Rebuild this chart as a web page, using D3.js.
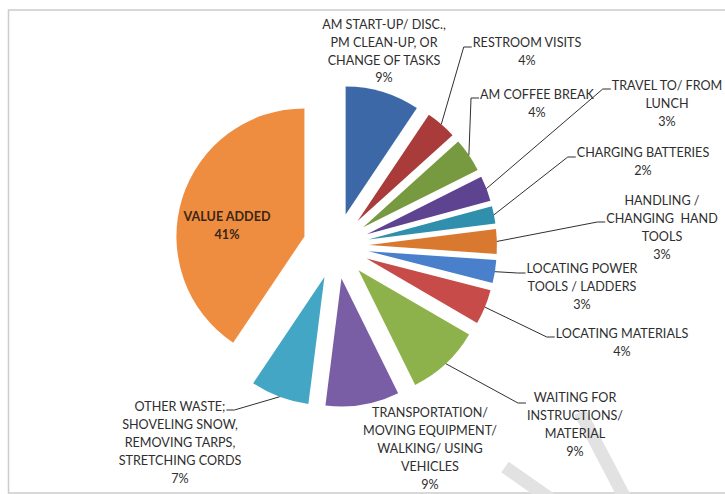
<!DOCTYPE html>
<html>
<head>
<meta charset="utf-8">
<script src="https://cdn.jsdelivr.net/npm/d3@7"></script>
<style>
  html, body { margin: 0; padding: 0; background: #fff; }
  svg { display: block; }
  .lbl { font-family: Lato, "Open Sans", sans-serif; font-size: 12.6px; fill: #2e2e2e; white-space: pre; }
  .leader { fill: none; stroke: #2f2f2f; stroke-width: 1; }
</style>
</head>
<body>
<div id="chart"></div>
<script>
// category names, one entry per slice (clockwise from 12 o'clock)
const categories = [
  ["AM START-UP/ DISC.,", "PM CLEAN-UP, OR", "CHANGE OF TASKS"],
  ["RESTROOM VISITS"],
  ["AM COFFEE BREAK"],
  ["TRAVEL TO/ FROM", "LUNCH"],
  ["CHARGING BATTERIES"],
  ["HANDLING /", "CHANGING  HAND", "TOOLS"],
  ["LOCATING POWER", "TOOLS / LADDERS"],
  ["LOCATING MATERIALS"],
  ["WAITING FOR", "INSTRUCTIONS/", "MATERIAL"],
  ["TRANSPORTATION/", "MOVING EQUIPMENT/", "WALKING/ USING", "VEHICLES"],
  ["OTHER WASTE;", "SHOVELING SNOW,", "REMOVING TARPS,", "STRETCHING CORDS"],
  ["VALUE ADDED"],
];

// share of time, percent
const shares = [9.4, 3.9, 4.3, 3.2, 2.2, 3.1, 2.9, 4.4, 9.3, 9.3, 7.4, 40.6];

const colors = [
  "#3d68a7", "#a93b3a", "#77993f", "#5d4390", "#2f8fad", "#d8792f",
  "#4a7fcc", "#c64b49", "#8eb24b", "#795ea5", "#44a6c5", "#ee8d40",
];

// label placement: centre x, first line y, leader attach offset, leader side
const labelLayout = [
  { x: 384, y: 24.5 },
  { x: 527, y: 43, dy: 4, side: "left" },
  { x: 537, y: 95, dy: 3, side: "left" },
  { x: 667, y: 86, dy: 3, side: "left" },
  { x: 643, y: 153, dy: 4, side: "left" },
  { x: 662, y: 201, dy: 21, side: "left" },
  { x: 582, y: 269, dy: 4, side: "left" },
  { x: 622, y: 334, dy: 3, side: "left" },
  { x: 575, y: 398, dy: 5, side: "left" },
  { x: 430, y: 413 },
  { x: 180, y: 407, dy: 3, side: "right" },
  { x: 227, y: 217, inside: true },
];

const width = 725, height = 494;
const cx = 336, cy = 246, radius = 128, explode = 33;
const lineH = 17.8;

const svg = d3.select("#chart").append("svg")
  .attr("width", width)
  .attr("height", height);

// chart frame
svg.append("rect")
  .attr("x", 8.5).attr("y", 10)
  .attr("width", 740).attr("height", 483)
  .attr("fill", "none")
  .attr("stroke", "#cccccc")
  .attr("stroke-width", 1.5);

// faint watermark strokes
const wm = svg.append("g").attr("stroke", "#e2e2e2").attr("stroke-width", 13).attr("fill", "none");
wm.append("line").attr("x1", 580).attr("y1", 412).attr("x2", 626).attr("y2", 500);
wm.append("line").attr("x1", 505).attr("y1", 467).attr("x2", 552).attr("y2", 500);

const pie = d3.pie().sort(null).value((d) => d);
const arcs = pie(shares);

const arc = d3.arc().innerRadius(0).outerRadius(radius);
const edge = d3.arc().innerRadius(radius).outerRadius(radius);

const offset = (d) => {
  const a = (d.startAngle + d.endAngle) / 2;
  return [explode * Math.sin(a), -explode * Math.cos(a)];
};

const g = svg.append("g").attr("transform", `translate(${cx},${cy})`);

g.selectAll("path.slice")
  .data(arcs)
  .enter()
  .append("path")
  .attr("class", "slice")
  .attr("d", arc)
  .attr("fill", (d, i) => colors[i])
  .attr("transform", (d) => `translate(${offset(d)})`);

// labels
const labels = svg.append("g");

arcs.forEach((d, i) => {
  const lay = labelLayout[i];
  const lines = categories[i].concat([Math.round(shares[i]) + "%"]);
  const lg = labels.append("g");

  const texts = lines.map((t, k) =>
    lg.append("text")
      .attr("class", "lbl")
      .attr("x", lay.x)
      .attr("y", lay.y + k * lineH)
      .attr("dy", "0.35em")
      .attr("text-anchor", "middle")
      .attr("font-weight", lay.inside ? "bold" : null)
      .style("fill", lay.inside ? "#3a2616" : null)
      .text(t)
  );

  if (!lay.side) return;

  const [ox, oy] = offset(d);
  const [ex, ey] = edge.centroid(d);
  const start = [cx + ox + ex, cy + oy + ey];
  const ay = lay.y + lay.dy;
  let end, elbow;
  if (lay.side === "left") {
    const box = lg.node().getBBox();
    end = [box.x - 1, ay];
    elbow = [box.x - 9, ay];
  } else {
    const box = texts[0].node().getBBox();
    end = [box.x + box.width + 1, ay];
    elbow = [box.x + box.width + 9, ay];
  }

  svg.append("path")
    .attr("class", "leader")
    .attr("d", d3.line()([start, elbow, end]));
});

labels.raise();
</script>
</body>
</html>
